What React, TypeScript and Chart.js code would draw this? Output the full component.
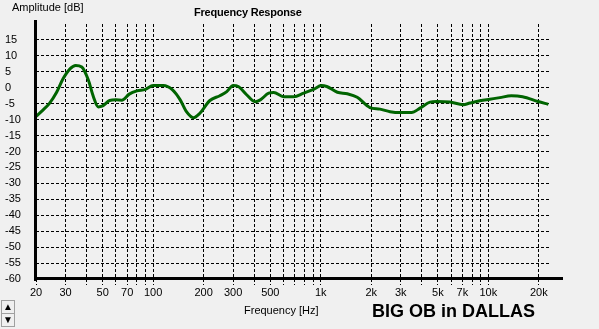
import React, { useEffect, useRef } from "react";
import { Chart, registerables } from "chart.js";

Chart.register(...registerables);

const freqs = [
  20, 22, 24, 26.5, 29, 32, 34.5, 37.5, 41, 44, 47, 50, 55, 60, 65, 72, 80, 90,
  100, 115, 130, 145, 158, 174, 190, 218, 250, 275, 300, 322, 361, 406, 436,
  489, 524, 600, 690, 790, 906, 1010, 1085, 1256, 1440, 1650, 1965, 2255, 2590,
  2970, 3480, 3910, 4490, 4920, 5900, 7080, 7750, 8900, 10200, 11700, 13700,
  16000, 19800, 22800,
];
const amps = [
  -9.0, -7.0, -5.0, -1.5, 2.8, 6.0, 7.0, 6.5, 2.5, -2.8, -6.0, -5.7, -4.0, -3.8,
  -3.9, -2.0, -1.0, -0.5, 0.7, 0.7, -0.6, -3.8, -7.5, -9.4, -8.0, -4.0, -2.5,
  -1.2, 0.7, 0.4, -2.2, -4.4, -3.8, -1.7, -1.5, -2.8, -2.8, -1.7, -0.5, 0.7,
  0.4, -1.4, -1.9, -3.0, -6.2, -6.7, -7.5, -7.8, -7.8, -6.4, -4.5, -4.3, -4.5,
  -5.3, -4.8, -4.1, -3.6, -3.1, -2.5, -2.8, -4.3, -5.2,
];
const xTicks = [
  20, 30, 40, 50, 60, 70, 80, 90, 100, 200, 300, 400, 500, 600, 700, 800, 900,
  1000, 2000, 3000, 4000, 5000, 6000, 7000, 8000, 9000, 10000, 20000,
];
const xLabels: Record<number, string> = {
  20: "20", 30: "30", 50: "50", 70: "70", 100: "100", 200: "200", 300: "300",
  500: "500", 1000: "1k", 2000: "2k", 3000: "3k", 5000: "5k", 7000: "7k",
  10000: "10k", 20000: "20k",
};
const xMin = 20;
const xMax = 23000;
const yMin = -60;
const yMax = 20;
const yStep = 5;

const FONT = "'Liberation Sans', Arial, sans-serif";

const axesPlugin = {
  id: "winAxes",
  afterDatasetsDraw(chart: any) {
    const { ctx, chartArea } = chart;
    const { left, bottom, top } = chart.chartArea;
    ctx.save();
    ctx.fillStyle = "#000";
    ctx.fillRect(left - 2, top - 4, 3, bottom - top + 6);
    ctx.fillRect(left - 2, bottom - 2, chartArea.right - left + 16, 3);
    ctx.restore();
  },
};

export default function App() {
  const ref = useRef<HTMLCanvasElement | null>(null);
  useEffect(() => {
    if (!ref.current) return;
    const chart = new Chart(ref.current, {
      type: "line",
      data: {
        datasets: [
          {
            data: freqs.map((f, i) => ({ x: f, y: amps[i] })),
            borderColor: "#006400",
            borderWidth: 3,
            pointRadius: 0,
            tension: 0.4,
            cubicInterpolationMode: "monotone",
            fill: false,
          },
        ],
      },
      options: {
        animation: false,
        responsive: false,
        layout: { padding: { left: 5, top: 24, right: 50, bottom: 0 } },
        plugins: { legend: { display: false }, tooltip: { enabled: false }, title: { display: false } },
        scales: {
          x: {
            type: "logarithmic",
            min: xMin,
            max: xMax,
            afterBuildTicks: (scale: any) => {
              scale.ticks = xTicks.map((v) => ({ value: v }));
            },
            afterFit: (scale: any) => {
              scale.height = 50;
            },
            ticks: {
              autoSkip: false,
              maxRotation: 0,
              padding: 1,
              color: "#000",
              font: { family: FONT, size: 11 },
              callback: (v: any) => xLabels[Number(v)] ?? "",
            },
            grid: {
              color: "#000",
              lineWidth: 1,
              drawTicks: true,
              tickLength: 6,
              tickColor: "#000",
              tickBorderDash: [3, 2],
            },
            border: { display: false, dash: [3, 2] },
          },
          y: {
            type: "linear",
            min: yMin,
            max: yMax,
            afterFit: (scale: any) => {
              scale.width = 31;
            },
            ticks: {
              stepSize: yStep,
              autoSkip: false,
              crossAlign: "far",
              color: "#000",
              font: { family: FONT, size: 11 },
              callback: (v: any) => (Number(v) === yMax ? "" : String(v)),
            },
            grid: {
              color: (c: any) => (c.tick && c.tick.value === yMax ? "rgba(0,0,0,0)" : "#000"),
              lineWidth: 1,
              drawTicks: false,
            },
            border: { display: false, dash: [3, 2] },
          },
        },
      },
      plugins: [axesPlugin],
    } as any);
    return () => chart.destroy();
  }, []);

  const txt: React.CSSProperties = {
    position: "absolute",
    fontFamily: FONT,
    fontSize: 11,
    lineHeight: "13px",
    color: "#000",
    whiteSpace: "nowrap",
  };
  const btn: React.CSSProperties = {
    position: "absolute",
    left: 1,
    width: 12,
    height: 12,
    background: "#f0f0f0",
    border: "1px solid #a0a0a0",
    fontSize: 10,
    lineHeight: "12px",
    textAlign: "center",
    fontFamily: FONT,
    color: "#000",
  };

  return (
    <div
      style={{
        position: "fixed",
        left: 0,
        top: 0,
        width: 599,
        height: 329,
        background: "#f0f0f0",
        overflow: "hidden",
      }}
    >
      <canvas ref={ref} width={599} height={329} style={{ display: "block" }} />
      <div style={{ ...txt, left: 12, top: 1 }}>Amplitude [dB]</div>
      <div style={{ ...txt, left: 194, top: 6, fontWeight: "bold", letterSpacing: "-0.2px" }}>Frequency Response</div>
      <div style={{ ...txt, left: 244, top: 304 }}>Frequency [Hz]</div>
      <div style={{ ...txt, left: 372, top: 301, fontSize: 18, lineHeight: "20px", fontWeight: "bold" }}>
        BIG OB in DALLAS
      </div>
      <div style={{ ...btn, top: 300 }}>▲</div>
      <div style={{ ...btn, top: 313 }}>▼</div>
    </div>
  );
}
